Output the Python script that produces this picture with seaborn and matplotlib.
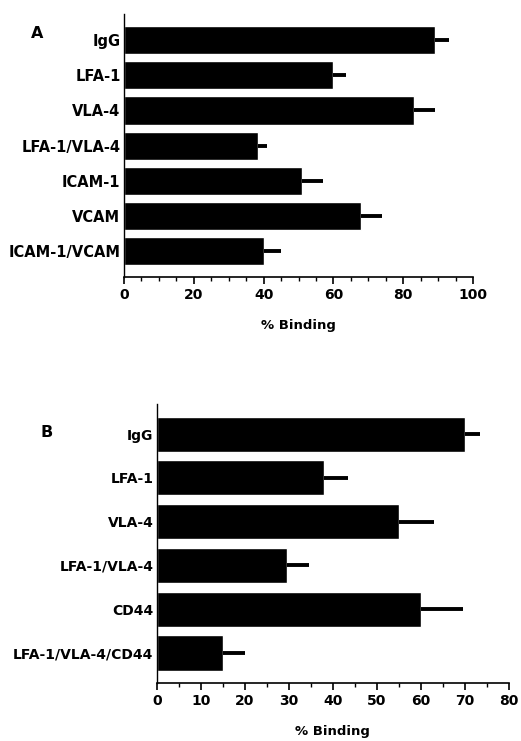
import matplotlib
matplotlib.use("Agg")
import matplotlib.pyplot as plt
from matplotlib.ticker import MultipleLocator
import numpy as np
import pandas as pd
import seaborn as sns

# Panel A: antibody blocking of binding
labels_a = ["IgG", "LFA-1", "VLA-4", "LFA-1/VLA-4", "ICAM-1", "VCAM", "ICAM-1/VCAM"]
binding_a = [89, 60, 83, 38.5, 51, 68, 40]
error_a = [4, 3.5, 6, 2.5, 6, 6, 5]

# Panel B: antibody blocking including CD44
labels_b = ["IgG", "LFA-1", "VLA-4", "LFA-1/VLA-4", "CD44", "LFA-1/VLA-4/CD44"]
binding_b = [70, 38, 55, 29.5, 60, 15]
error_b = [3.5, 5.5, 8, 5, 9.5, 5]

sns.set_theme(style="ticks")
plt.rcParams["font.family"] = ["DejaVu Sans"]
plt.rcParams["font.weight"] = "bold"
for key in ["text.color", "axes.labelcolor", "xtick.color", "ytick.color", "axes.edgecolor"]:
    plt.rcParams[key] = "black"

fig = plt.figure(figsize=(5.21, 7.41), dpi=100)
ax_a = fig.add_axes([0.238, 0.626, 0.670, 0.355])
ax_b = fig.add_axes([0.301, 0.078, 0.676, 0.377])


def draw_panel(ax, labels, values, errors, xmax, major, letter, letter_xy, ylab_size):
    df = pd.DataFrame({"antibody": labels, "binding": values})
    sns.barplot(data=df, x="binding", y="antibody", orient="h", color="black",
                saturation=1, width=0.8, errorbar=None, ax=ax)
    pos = np.arange(len(labels))
    ax.errorbar(values, pos, xerr=[np.zeros(len(errors)), errors], fmt="none",
                ecolor="black", elinewidth=2.8, capsize=0)
    ax.set_xlim(0, xmax)
    ax.xaxis.set_major_locator(MultipleLocator(major))
    ax.xaxis.set_minor_locator(MultipleLocator(5))
    ax.tick_params(axis="x", which="major", length=5, width=1.2, labelsize=10, pad=3)
    ax.tick_params(axis="x", which="minor", length=3, width=1.0)
    ax.tick_params(axis="y", length=0, labelsize=ylab_size, pad=2.5)
    for t in ax.get_xticklabels() + ax.get_yticklabels():
        t.set_fontweight("bold")
    ax.set_ylabel("")
    ax.set_xlabel("% Binding", fontsize=9.5, fontweight="bold", labelpad=12)
    sns.despine(ax=ax)
    ax.spines["left"].set_linewidth(1.0)
    ax.spines["bottom"].set_linewidth(1.2)
    fig.text(letter_xy[0], letter_xy[1], letter, fontsize=11.5, fontweight="bold",
             ha="left", va="center")


draw_panel(ax_a, labels_a, binding_a, error_a, 100, 20, "A", (0.060, 0.955), 10.5)
draw_panel(ax_b, labels_b, binding_b, error_b, 80, 10, "B", (0.078, 0.417), 10)

fig.savefig("out.png", dpi=100)
